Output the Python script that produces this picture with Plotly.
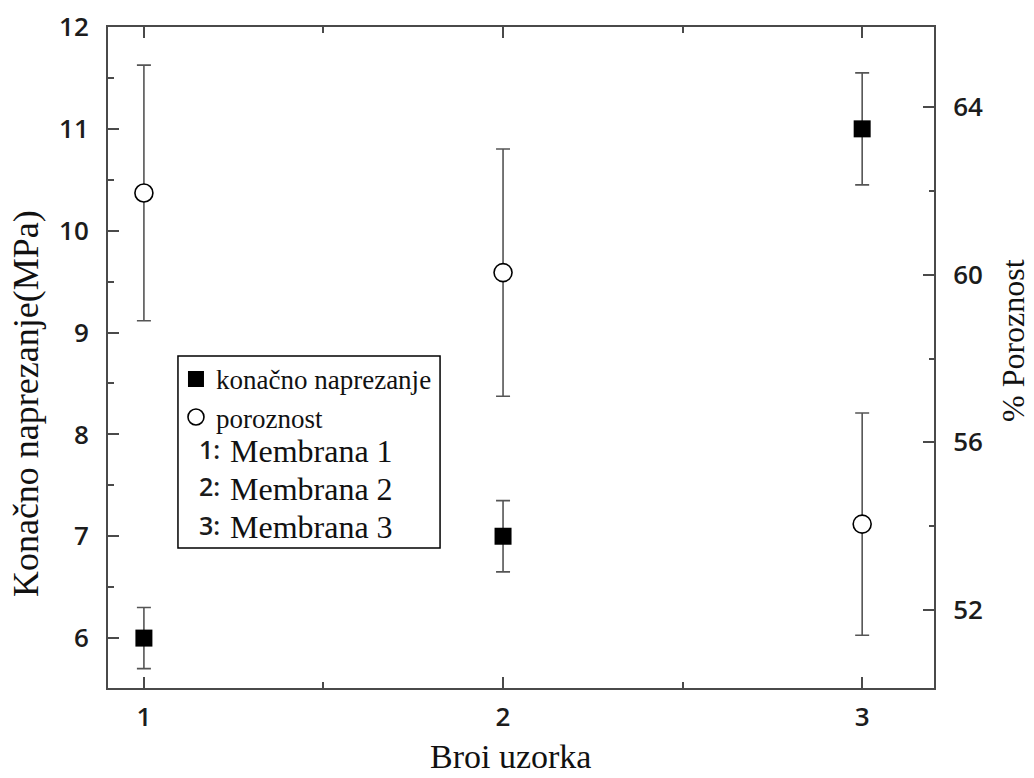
import plotly.graph_objects as go

samples = [1, 2, 3]
stress = [6.0, 7.0, 11.0]
stress_err = [0.3, 0.35, 0.55]
porosity = [61.95, 60.05, 54.05]
porosity_err = [3.05, 2.95, 2.65]

membranes = ["Membrana 1", "Membrana 2", "Membrana 3"]
series_names = ["konačno naprezanje", "poroznost"]

SERIF = "Liberation Serif, Times New Roman, serif"
SANS = "Open Sans, Noto Sans, sans-serif"
AXIS_COLOR = "#4a4a4a"
TICK_FONT = dict(family=SANS, size=26, color="#1c1c1c", weight=600)

fig = go.Figure()
fig.add_trace(go.Scatter(
    x=samples, y=stress, mode="markers", name=series_names[0],
    marker=dict(symbol="square", size=17, color="black", line=dict(width=0)),
    error_y=dict(type="data", array=stress_err, color="#555555", thickness=1.6, width=7),
    yaxis="y",
))
fig.add_trace(go.Scatter(
    x=samples, y=porosity, mode="markers", name=series_names[1],
    marker=dict(symbol="circle", size=18, color="white", line=dict(width=1.6, color="black")),
    error_y=dict(type="data", array=porosity_err, color="#555555", thickness=1.6, width=7),
    yaxis="y2",
))

# legend frame + membrane key (paper coords of the plot area)
fig.add_shape(type="rect", xref="paper", yref="paper", x0=0.0847, x1=0.402, y0=0.2118, y1=0.5023,
              line=dict(color="black", width=1.5), fillcolor="rgba(0,0,0,0)", layer="above")
row_y = [0.362, 0.305, 0.247]
for i, name in enumerate(membranes):
    fig.add_annotation(x=0.1077, y=row_y[i], xref="paper", yref="paper", text=f"{i + 1}:", showarrow=False,
                       xanchor="left", yanchor="middle", font=dict(family=SANS, size=25, color="#1c1c1c", weight=600))
    fig.add_annotation(x=0.1453, y=row_y[i] - 0.004, xref="paper", yref="paper", text=name, showarrow=False,
                       xanchor="left", yanchor="middle", font=dict(family=SERIF, size=32, color="#111111"))

# axis titles placed by hand to sit where the reference has them
fig.add_annotation(x=-0.0993, y=0.431, xref="paper", yref="paper", text="Konačno naprezanje(MPa)",
                   textangle=-90, showarrow=False, xanchor="center", yanchor="middle",
                   font=dict(family=SERIF, size=36, color="#111111"))
fig.add_annotation(x=1.0965, y=0.526, xref="paper", yref="paper", text="% Poroznost",
                   textangle=-90, showarrow=False, xanchor="center", yanchor="middle",
                   font=dict(family=SERIF, size=32, color="#111111"))
fig.add_annotation(x=0.4867, y=-0.103, xref="paper", yref="paper", text="Broi uzorka",
                   showarrow=False, xanchor="center", yanchor="middle", font=dict(family=SERIF, size=34, color="#111111"))

fig.update_layout(
    width=1034, height=778,
    paper_bgcolor="white", plot_bgcolor="white",
    margin=dict(l=108, r=100, t=27, b=90, autoexpand=False),
    showlegend=True,
    legend=dict(x=0.0823, y=0.504, xanchor="left", yanchor="top", bgcolor="rgba(0,0,0,0)",
                borderwidth=0, font=dict(family=SERIF, size=27, color="#111111"),
                itemwidth=30, tracegroupgap=0),
    xaxis=dict(range=[0.9, 3.2], tickmode="array", tickvals=samples, ticktext=[str(s) for s in samples],
               ticks="inside", ticklen=11, tickwidth=2, tickcolor=AXIS_COLOR, ticklabelstandoff=5,
               minor=dict(tickvals=[1.5, 2.5], ticks="inside", ticklen=6, tickwidth=2, tickcolor=AXIS_COLOR),
               showline=True, linecolor=AXIS_COLOR, linewidth=2, mirror="ticks", showgrid=False, zeroline=False,
               tickfont=TICK_FONT, automargin=False),
    yaxis=dict(range=[5.51, 12.0], tickmode="linear", tick0=6, dtick=1,
               ticks="inside", ticklen=11, tickwidth=2, tickcolor=AXIS_COLOR, ticklabelstandoff=12,
               minor=dict(dtick=0.5, ticks="inside", ticklen=6, tickwidth=2, tickcolor=AXIS_COLOR),
               showline=True, linecolor=AXIS_COLOR, linewidth=2, showgrid=False, zeroline=False,
               tickfont=TICK_FONT, automargin=False),
    yaxis2=dict(range=[50.14, 65.91], overlaying="y", side="right", tickmode="array", tickvals=[52, 56, 60, 64],
                ticks="inside", ticklen=11, tickwidth=2, tickcolor=AXIS_COLOR, ticklabelstandoff=12,
                minor=dict(tickvals=[54, 58, 62], ticks="inside", ticklen=5, tickwidth=2, tickcolor=AXIS_COLOR),
                showline=True, linecolor=AXIS_COLOR, linewidth=2, showgrid=False, zeroline=False,
                tickfont=TICK_FONT, automargin=False),
)

# page body has an 8px default margin; drop it so the figure sits at the window corner
fig.write_html("out.html", config={"displayModeBar": False},
               post_script="document.body.style.margin='0';")
